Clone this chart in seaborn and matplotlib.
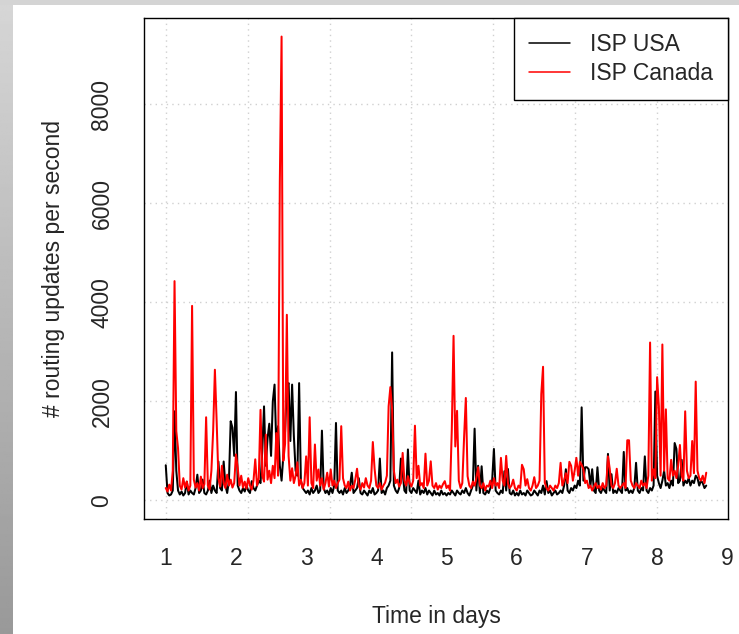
import numpy as np
import pandas as pd
import matplotlib
matplotlib.use("Agg")
import matplotlib.pyplot as plt
from matplotlib.lines import Line2D
import seaborn as sns

# ---------------- data ----------------
series_names = ["ISP USA", "ISP Canada"]
series_colors = ["black", "red"]
x_start = 1.0          # first sample, in days
x_step = 0.025         # sampling step, in days

usa = [
    711, 150, 100, 120, 200, 1800, 600, 200, 120, 180, 100, 150, 380, 120, 200, 150, 120, 250, 520, 150,
    200, 420, 150, 120, 200, 400, 150, 300, 200, 150, 786, 250, 200, 786, 300, 150, 400, 1600, 1470, 900,
    2190, 300, 200, 150, 250, 180, 300, 200, 150, 390, 250, 200, 300, 400, 350, 1000, 1900, 700, 1250, 1550,
    900, 2000, 2340, 1100, 1500, 700, 400, 900, 1400, 2300, 2370, 1200, 2340, 1300, 600, 500, 2370, 400, 250, 200,
    150, 200, 120, 250, 150, 200, 300, 150, 200, 1410, 250, 150, 200, 120, 250, 150, 300, 1565, 200, 150,
    200, 120, 250, 150, 200, 300, 560, 150, 200, 250, 450, 150, 120, 200, 150, 100, 200, 150, 250, 120,
    150, 200, 846, 150, 200, 120, 250, 300, 400, 2990, 300, 200, 150, 250, 846, 560, 200, 150, 1030, 200,
    150, 250, 200, 150, 400, 120, 200, 150, 250, 120, 200, 150, 100, 200, 120, 150, 100, 200, 120, 150,
    100, 150, 120, 200, 150, 100, 200, 150, 120, 200, 150, 250, 150, 100, 200, 300, 1450, 200, 700, 150,
    690, 150, 120, 200, 150, 250, 400, 1040, 200, 150, 120, 200, 150, 590, 200, 635, 150, 120, 200, 100,
    150, 100, 200, 120, 150, 100, 200, 150, 100, 120, 200, 150, 100, 200, 150, 300, 120, 390, 150, 200,
    100, 150, 200, 120, 150, 200, 150, 300, 630, 200, 150, 250, 200, 300, 250, 400, 300, 1880, 400, 670,
    670, 630, 300, 630, 200, 150, 670, 200, 150, 250, 200, 150, 940, 200, 530, 150, 200, 150, 250, 200,
    150, 980, 200, 250, 150, 200, 150, 250, 760, 200, 150, 250, 200, 890, 200, 150, 250, 200, 300, 2200,
    500, 350, 250, 400, 600, 300, 350, 250, 400, 300, 1160, 1040, 350, 400, 820, 300, 400, 350, 450, 300,
    400, 350, 500, 450, 300, 400, 350, 250, 300,
]

canada = [
    250, 180, 320, 200, 600, 4430, 1400, 1050, 300, 220, 450, 260, 380, 200, 300, 3930, 420, 260, 350, 200,
    480, 250, 330, 1680, 300, 220, 600, 1400, 2640, 1600, 450, 280, 700, 350, 250, 520, 300, 420, 260, 350,
    930, 660, 300, 500, 260, 380, 240, 450, 300, 220, 400, 830, 300, 450, 1830, 500, 380, 1330, 420, 600,
    350, 700, 450, 1360, 500, 6430, 9370, 800, 1150, 3750, 900, 400, 650, 350, 500, 770, 300, 420, 250, 350,
    890, 300, 1680, 350, 250, 1130, 400, 625, 300, 450, 220, 350, 560, 280, 625, 300, 400, 250, 350, 420,
    1500, 450, 300, 250, 380, 200, 300, 250, 420, 640, 300, 220, 350, 260, 450, 300, 250, 400, 1180, 640,
    300, 250, 350, 220, 300, 360, 500, 1900, 2290, 1830, 600, 350, 420, 280, 350, 960, 400, 300, 490, 350,
    280, 400, 1510, 450, 700, 300, 350, 250, 945, 300, 400, 790, 300, 250, 350, 220, 300, 250, 330, 390,
    250, 300, 200, 1430, 3325, 1090, 1810, 400, 250, 350, 1270, 2070, 490, 300, 250, 380, 300, 450, 670, 300,
    250, 350, 200, 300, 280, 400, 250, 450, 300, 350, 250, 860, 400, 300, 900, 350, 250, 300, 420, 250,
    200, 300, 250, 720, 630, 300, 430, 250, 200, 300, 470, 250, 300, 400, 2150, 2700, 360, 250, 200, 300,
    250, 200, 300, 250, 350, 760, 300, 400, 550, 350, 780, 700, 400, 600, 860, 500, 780, 720, 630, 350,
    400, 250, 300, 200, 280, 350, 250, 300, 220, 350, 250, 300, 890, 640, 300, 250, 350, 640, 300, 250,
    300, 350, 250, 1215, 1215, 400, 300, 250, 350, 300, 250, 400, 300, 350, 250, 500, 3190, 400, 630, 450,
    2490, 1900, 500, 3150, 600, 1840, 450, 400, 820, 500, 600, 450, 700, 1120, 500, 400, 1800, 600, 450, 500,
    1200, 550, 2400, 600, 450, 400, 500, 350, 560,
]

x_ticks = [1, 2, 3, 4, 5, 6, 7, 8, 9]
y_ticks = [0, 2000, 4000, 6000, 8000]
x_grid = [1.0, 2.1667, 3.3333, 4.5, 5.6667, 6.8333, 8.0]
x_label = "Time in days"
y_label = "# routing updates per second"

# ---------------- build table ----------------
days = x_start + x_step * np.arange(len(usa))
df = pd.concat([
    pd.DataFrame({"day": days, "value": usa, "isp": series_names[0]}),
    pd.DataFrame({"day": days[:len(canada)], "value": canada, "isp": series_names[1]}),
], ignore_index=True)

# ---------------- style ----------------
sns.set_style("white")
plt.rcParams["font.family"] = ["Liberation Sans", "DejaVu Sans"]
FS = 16.5

W, H = 739, 634
fig = plt.figure(figsize=(W / 100, H / 100), dpi=100)
fig.patch.set_facecolor("white")

# gray frame of the screenshot (top band + left gradient band)
band = fig.add_axes([0, 0, 13 / W, 1])
grad = np.linspace(0.84, 0.60, 256).reshape(-1, 1)
band.imshow(grad, aspect="auto", cmap="gray", vmin=0, vmax=1, extent=[0, 1, 0, 1])
band.set_axis_off()
top = fig.add_axes([0, 1 - 5 / H, 1, 5 / H])
top.set_facecolor("#d4d4d4")
top.set_xticks([]); top.set_yticks([])
for s in top.spines.values():
    s.set_visible(False)

ax = fig.add_axes([144 / W, 1 - 519 / H, (728 - 144) / W, (519 - 18) / H])

for g in x_grid:
    ax.axvline(g, color="#d0d0d0", lw=1.0, ls=(0, (1, 3)), zorder=0)
for g in y_ticks:
    ax.axhline(g, color="#d0d0d0", lw=1.0, ls=(0, (1, 3)), zorder=0)

sns.lineplot(data=df, x="day", y="value", hue="isp", hue_order=series_names,
             palette=dict(zip(series_names, series_colors)), estimator=None,
             linewidth=1.45, ax=ax, legend=False)

ax.set_xlim(0.69, 9.01)
ax.set_ylim(-375, 9745)
ax.set_xticks(x_ticks)
ax.set_yticks(y_ticks)
ax.set_xticklabels([str(v) for v in x_ticks], fontsize=FS)
ax.set_yticklabels([str(v) for v in y_ticks], fontsize=FS, rotation=90, va="center")
ax.tick_params(axis="both", direction="out", length=10, width=1.0, color="black")
ax.tick_params(axis="x", pad=10)
ax.tick_params(axis="y", pad=12)
for s in ax.spines.values():
    s.set_visible(True)
    s.set_color("black")
    s.set_linewidth(1.0)

ax.set_xlabel(x_label, fontsize=FS, labelpad=25)
ax.set_ylabel(y_label, fontsize=FS, labelpad=18)

handles = [Line2D([], [], color=c, lw=1.1) for c in series_colors]
leg = ax.legend(handles, series_names, loc="upper right", bbox_to_anchor=(1, 1),
                borderaxespad=0, frameon=True, fancybox=False, edgecolor="black",
                framealpha=1, fontsize=FS, handlelength=1.8, handletextpad=0.87,
                borderpad=0.64, labelspacing=0.27)
leg.get_frame().set_linewidth(1.0)

fig.savefig("out.png", dpi=100)
